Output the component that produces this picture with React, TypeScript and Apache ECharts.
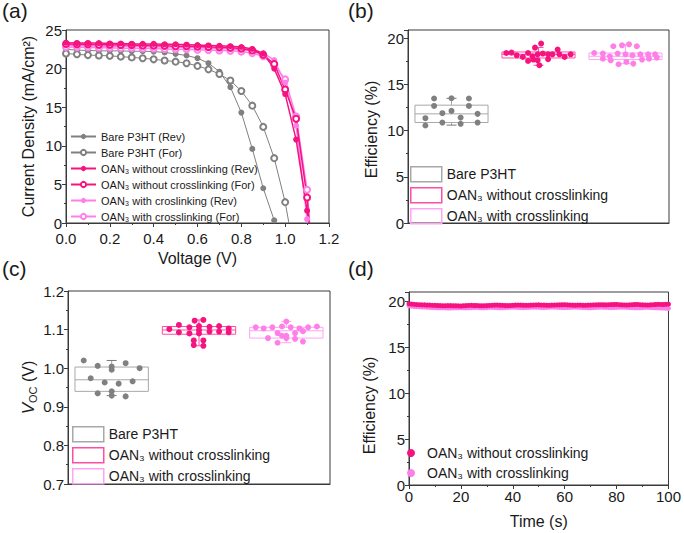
import React, { useEffect, useRef } from 'react';
import * as echarts from 'echarts';

const FONT = '"Liberation Sans", Arial, sans-serif';
const AX = '#3a3a3a';
const TXT = '#1a1a1a';
const GRAY = '#808080';
const DEEP = '#f5137f';
const LIGHT = '#ff7fe9';
const BOX_GRAY = '#a8a8a8';
const BOX_DEEP = '#ff4da3';
const BOX_LIGHT = '#ffa3f3';

// ---------- (a) J-V curves ----------
const vBareRev = [0, 0.05, 0.1, 0.15, 0.2, 0.25, 0.3, 0.35, 0.4, 0.45, 0.5, 0.55, 0.6, 0.65, 0.7, 0.75, 0.8, 0.85, 0.9, 0.95];
const jBareRev = [22.5, 22.4, 22.35, 22.3, 22.3, 22.3, 22.25, 22.25, 22.2, 22.1, 21.9, 21.7, 21.35, 20.7, 19.6, 17.6, 14.3, 9.6, 4.5, 0.35];
const vBareFor = [0, 0.05, 0.1, 0.15, 0.2, 0.25, 0.3, 0.35, 0.4, 0.45, 0.5, 0.55, 0.6, 0.65, 0.7, 0.75, 0.8, 0.85, 0.9, 0.95, 1.0];
const jBareFor = [21.95, 21.85, 21.75, 21.7, 21.65, 21.55, 21.45, 21.35, 21.2, 21.05, 20.9, 20.7, 20.35, 19.9, 19.3, 18.45, 17.1, 15.2, 12.45, 8.4, 2.7];
const vPink = [0, 0.05, 0.1, 0.15, 0.2, 0.25, 0.3, 0.35, 0.4, 0.45, 0.5, 0.55, 0.6, 0.65, 0.7, 0.75, 0.8, 0.85, 0.9, 0.95, 1.0, 1.05, 1.1];
const jDeepRev = [23.35, 23.3, 23.3, 23.3, 23.25, 23.25, 23.2, 23.2, 23.2, 23.15, 23.15, 23.1, 23.05, 23.0, 22.95, 22.9, 22.8, 22.55, 21.95, 20.0, 16.7, 10.8, 1.6];
const jDeepFor = [23.2, 23.15, 23.15, 23.1, 23.1, 23.05, 23.05, 23.0, 23.0, 22.95, 22.9, 22.9, 22.85, 22.8, 22.75, 22.7, 22.6, 22.35, 21.8, 20.6, 17.3, 13.5, 3.3];
const jLightRev = [23.0, 22.95, 22.95, 22.9, 22.9, 22.9, 22.85, 22.85, 22.8, 22.8, 22.75, 22.75, 22.7, 22.65, 22.6, 22.55, 22.45, 22.3, 22.0, 21.1, 18.2, 12.6, 0.5];
const jLightFor = [22.8, 22.75, 22.75, 22.7, 22.7, 22.65, 22.65, 22.6, 22.6, 22.55, 22.5, 22.5, 22.45, 22.4, 22.35, 22.3, 22.2, 22.0, 21.6, 20.5, 18.6, 13.8, 4.3];
// voltage where each curve reaches J = 0 (open circuit)
const vocEnd = { bareFor: 1.017, deepRev: 1.108, deepFor: 1.11, lightRev: 1.105, lightFor: 1.112 };
const jvNames = [
  'Bare P3HT (Rev)',
  'Bare P3HT (For)',
  'OAN₃ without crosslinking (Rev)',
  'OAN₃ without crosslinking (For)',
  'OAN₃ with croslinking (Rev)',
  'OAN₃ with crosslinking (For)',
];

// ---------- (b), (c) box plots ----------
const groups = ['Bare P3HT', 'OAN₃ without crosslinking', 'OAN₃ with crosslinking'];
// [category index, min, Q1, median, Q3, max]
const pceBox = [
  [0, 10.6, 10.88, 11.82, 12.76, 13.5],
  [1, 17.08, 17.87, 18.27, 18.52, 19.0],
  [2, 17.26, 17.7, 18.05, 18.41, 19.32],
];
const vocBox = [
  [0, 0.929, 0.94, 0.97, 1.003, 1.02],
  [1, 1.058, 1.088, 1.099, 1.108, 1.125],
  [2, 1.066, 1.078, 1.097, 1.106, 1.121],
];
// [jitter within category, value]
const pceBarePts = [[-0.2, 13.48], [0.0, 13.51], [0.2, 13.48], [-0.2, 12.68], [0.2, 12.68], [0.0, 12.14], [-0.105, 11.89], [0.3, 11.82], [-0.3, 11.35], [0.105, 11.42], [-0.105, 10.88], [0.3, 10.88], [0.105, 10.74], [-0.3, 10.56]];
const pceDeepPts = [[-0.37, 18.41], [-0.31, 18.45], [-0.25, 18.16], [-0.18, 17.98], [-0.12, 18.41], [-0.12, 17.55], [-0.07, 18.05], [-0.06, 17.7], [-0.04, 18.99], [-0.01, 18.27], [-0.01, 17.62], [0.03, 19.43], [0.01, 17.08], [0.05, 18.35], [0.11, 18.27], [0.11, 17.73], [0.16, 18.27], [0.22, 18.78], [0.24, 18.27], [0.3, 17.98], [0.37, 18.27]];
const pceLightPts = [[-0.36, 18.41], [-0.26, 17.8], [-0.26, 18.35], [-0.18, 18.05], [-0.17, 17.62], [-0.14, 19.14], [-0.09, 18.35], [-0.08, 17.19], [-0.04, 19.24], [0.0, 18.27], [0.01, 17.44], [0.04, 19.35], [0.08, 18.16], [0.09, 17.26], [0.13, 19.14], [0.17, 18.27], [0.19, 17.7], [0.26, 18.27], [0.27, 17.8], [0.34, 18.27], [0.36, 17.91]];
const vocBarePts = [[-0.32, 1.02], [-0.16, 1.006], [0, 1.004], [0, 0.996], [0.16, 1.013], [0.32, 1.0], [-0.24, 0.974], [-0.08, 0.963], [0.08, 0.96], [0.24, 0.966], [-0.16, 0.935], [0, 0.94], [0, 0.929], [0.16, 0.927]];
const vocDeepPts = [[-0.34, 1.101], [-0.23, 1.112], [-0.23, 1.093], [-0.11, 1.106], [-0.11, 1.09], [-0.05, 1.123], [0, 1.109], [0, 1.099], [0, 1.09], [0.05, 1.125], [0.05, 1.072], [0.12, 1.107], [0.12, 1.095], [0.23, 1.109], [0.23, 1.095], [0.34, 1.103], [0.34, 1.093], [-0.06, 1.06], [0.05, 1.058], [-0.06, 1.072]];
const vocLightPts = [[-0.35, 1.106], [-0.26, 1.103], [-0.21, 1.078], [-0.16, 1.106], [-0.1, 1.091], [-0.05, 1.108], [0, 1.121], [0, 1.084], [0, 1.078], [0.05, 1.106], [0.1, 1.091], [0.1, 1.076], [0.15, 1.103], [0.19, 1.069], [0.19, 1.096], [0.25, 1.106], [0.35, 1.108], [-0.1, 1.066], [-0.05, 1.084]];

// ---------- (d) stability ----------
const timeS = [
  0, 1, 2, 3, 4, 5, 6, 7, 8, 9,
  10, 11, 12, 13, 14, 15, 16, 17, 18, 19,
  20, 21, 22, 23, 24, 25, 26, 27, 28, 29,
  30, 31, 32, 33, 34, 35, 36, 37, 38, 39,
  40, 41, 42, 43, 44, 45, 46, 47, 48, 49,
  50, 51, 52, 53, 54, 55, 56, 57, 58, 59,
  60, 61, 62, 63, 64, 65, 66, 67, 68, 69,
  70, 71, 72, 73, 74, 75, 76, 77, 78, 79,
  80, 81, 82, 83, 84, 85, 86, 87, 88, 89,
  90, 91, 92, 93, 94, 95, 96, 97, 98, 99,
  100,
];
const effWithout = [
  19.72, 19.68, 19.66, 19.63, 19.62, 19.6, 19.6, 19.57, 19.58, 19.55,
  19.55, 19.53, 19.52, 19.5, 19.5, 19.52, 19.52, 19.5, 19.5, 19.49,
  19.48, 19.5, 19.52, 19.54, 19.55, 19.53, 19.53, 19.51, 19.5, 19.51,
  19.52, 19.54, 19.55, 19.57, 19.58, 19.56, 19.55, 19.53, 19.52, 19.53,
  19.55, 19.57, 19.58, 19.57, 19.56, 19.55, 19.55, 19.57, 19.58, 19.59,
  19.6, 19.58, 19.57, 19.56, 19.55, 19.57, 19.58, 19.59, 19.6, 19.61,
  19.62, 19.6, 19.58, 19.57, 19.56, 19.57, 19.58, 19.56, 19.55, 19.57,
  19.58, 19.59, 19.6, 19.61, 19.62, 19.61, 19.6, 19.62, 19.63, 19.64,
  19.65, 19.62, 19.6, 19.59, 19.58, 19.6, 19.62, 19.64, 19.65, 19.62,
  19.6, 19.59, 19.58, 19.6, 19.62, 19.64, 19.66, 19.65, 19.64, 19.66,
  19.68,
];
const effWith = [
  19.5, 19.46, 19.42, 19.4, 19.38, 19.37, 19.36, 19.34, 19.32, 19.31,
  19.3, 19.29, 19.28, 19.28, 19.27, 19.26, 19.25, 19.27, 19.28, 19.29,
  19.3, 19.28, 19.27, 19.28, 19.3, 19.31, 19.32, 19.3, 19.28, 19.29,
  19.3, 19.32, 19.33, 19.31, 19.3, 19.29, 19.28, 19.3, 19.32, 19.33,
  19.35, 19.34, 19.33, 19.31, 19.3, 19.31, 19.32, 19.34, 19.35, 19.34,
  19.33, 19.31, 19.3, 19.32, 19.34, 19.36, 19.35, 19.33, 19.32, 19.31,
  19.3, 19.31, 19.32, 19.34, 19.35, 19.33, 19.32, 19.31, 19.3, 19.29,
  19.28, 19.3, 19.32, 19.34, 19.35, 19.34, 19.33, 19.31, 19.3, 19.31,
  19.32, 19.34, 19.35, 19.33, 19.32, 19.31, 19.3, 19.29, 19.28, 19.29,
  19.3, 19.32, 19.33, 19.31, 19.3, 19.28, 19.27, 19.26, 19.25, 19.23,
  19.22,
];
const stabNames = ['OAN₃ without crosslinking ', 'OAN₃ with crosslinking '];

const zip = (xs: number[], ys: number[]) => xs.map((x, i) => [x, ys[i]]);
const withEnd = (xs: number[], ys: number[], xEnd: number) => [
  ...zip(xs, ys),
  { value: [xEnd, 0], symbol: 'none' },
];

const axisCommon: any = {
  axisLine: { show: true, onZero: false, lineStyle: { color: AX, width: 1 } },
  axisTick: { show: true, inside: false, length: 4, lineStyle: { color: AX } },
  minorTick: { show: true, splitNumber: 2, length: 2, lineStyle: { color: AX } },
  splitLine: { show: false },
  minorSplitLine: { show: false },
  axisLabel: { color: TXT, fontSize: 15, fontFamily: FONT, margin: 4, lineHeight: 15 },
  nameLocation: 'middle',
  nameTextStyle: { color: TXT, fontSize: 16, fontFamily: FONT },
};

const boxRender = (color: string) => (params: any, api: any) => {
  const x = api.value(0);
  const pMin = api.coord([x, api.value(1)]);
  const pQ1 = api.coord([x, api.value(2)]);
  const pMed = api.coord([x, api.value(3)]);
  const pQ3 = api.coord([x, api.value(4)]);
  const pMax = api.coord([x, api.value(5)]);
  const w = api.size([0.84, 0])[0];
  const cx = pMed[0];
  const cap = 5;
  const st = { stroke: color, lineWidth: 1, fill: 'none' };
  const wst = { stroke: '#7a7a7a', lineWidth: 1, fill: 'none' };
  return {
    type: 'group',
    children: [
      { type: 'rect', shape: { x: cx - w / 2, y: pQ3[1], width: w, height: pQ1[1] - pQ3[1] }, style: st },
      { type: 'line', shape: { x1: cx - w / 2, y1: pMed[1], x2: cx + w / 2, y2: pMed[1] }, style: st },
      { type: 'line', shape: { x1: cx, y1: pQ3[1], x2: cx, y2: pMax[1] }, style: st },
      { type: 'line', shape: { x1: cx, y1: pQ1[1], x2: cx, y2: pMin[1] }, style: st },
      { type: 'line', shape: { x1: cx - cap, y1: pMax[1], x2: cx + cap, y2: pMax[1] }, style: color === BOX_GRAY ? wst : st },
      { type: 'line', shape: { x1: cx - cap, y1: pMin[1], x2: cx + cap, y2: pMin[1] }, style: color === BOX_GRAY ? wst : st },
    ],
  };
};

const boxColors = [BOX_GRAY, BOX_DEEP, BOX_LIGHT];
const dotColors = [GRAY, DEEP, LIGHT];

const boxSeries = (boxes: number[][], grid: number) =>
  boxes.map((b, i) => ({
    type: 'custom',
    name: groups[i],
    xAxisIndex: grid,
    yAxisIndex: grid,
    renderItem: boxRender(boxColors[i]),
    encode: { x: 0, y: [1, 2, 3, 4, 5] },
    itemStyle: { color: boxColors[i] },
    data: [b],
    z: 2,
  }));

const dotSeries = (pts: number[][][], grid: number) =>
  pts.map((p, i) => ({
    type: 'scatter',
    name: groups[i] + ' data',
    xAxisIndex: grid,
    yAxisIndex: grid,
    symbolSize: 6,
    itemStyle: { color: dotColors[i], opacity: 1 },
    data: p.map(([dx, v]) => [i + dx, v]),
    z: 3,
  }));

const boxLegend = (left: number, top: number) => ({
  orient: 'vertical',
  left,
  top,
  padding: 0,
  itemWidth: 31,
  itemHeight: 15,
  itemGap: 4.5,
  selectedMode: false,
  textStyle: { fontSize: 14, color: TXT, fontFamily: FONT, lineHeight: 15 },
  data: groups.map((g, i) => ({
    name: g,
    icon: 'rect',
    itemStyle: { color: 'rgba(0,0,0,0)', borderColor: boxColors[i], borderWidth: 1.5 },
  })),
});

const option: any = {
  animation: false,
  backgroundColor: '#ffffff',
  textStyle: { fontFamily: FONT },
  grid: [
    { left: 66, top: 30, width: 263, height: 193, show: true, borderColor: AX, borderWidth: 1 },
    { left: 408, top: 30, width: 261, height: 193, show: true, borderColor: AX, borderWidth: 1 },
    { left: 68, top: 291, width: 262, height: 193, show: true, borderColor: AX, borderWidth: 1 },
    { left: 409, top: 292, width: 261, height: 193, show: true, borderColor: AX, borderWidth: 1 },
  ],
  xAxis: [
    {
      ...axisCommon, gridIndex: 0, type: 'value', min: 0, max: 1.2, interval: 0.2,
      axisLabel: { ...axisCommon.axisLabel, margin: 8, formatter: (v: number) => v.toFixed(1) },
      name: 'Voltage (V)', nameGap: 27,
    },
    {
      ...axisCommon, gridIndex: 1, type: 'value', min: -0.5, max: 2.5,
      axisLabel: { show: false }, axisTick: { show: false }, minorTick: { show: false },
    },
    {
      ...axisCommon, gridIndex: 2, type: 'value', min: -0.5, max: 2.5,
      axisLabel: { show: false }, axisTick: { show: false }, minorTick: { show: false },
    },
    {
      ...axisCommon, gridIndex: 3, type: 'value', min: 0, max: 100, interval: 20,
      axisLabel: { ...axisCommon.axisLabel, margin: 4 },
      name: 'Time (s)', nameGap: 28,
    },
  ],
  yAxis: [
    {
      ...axisCommon, gridIndex: 0, type: 'value', min: 0, max: 25, interval: 5,
      name: 'Current Density (mA/cm²)', nameGap: 30,
    },
    {
      ...axisCommon, gridIndex: 1, type: 'value', min: 0, max: 20.9, interval: 5,
      axisLabel: { ...axisCommon.axisLabel, showMaxLabel: false },
      name: 'Efficiency (%)', nameGap: 29,
      nameTextStyle: { ...axisCommon.nameTextStyle, padding: [0, 6, 0, 0] },
    },
    {
      ...axisCommon, gridIndex: 2, type: 'value', min: 0.7, max: 1.2, interval: 0.1,
      axisLabel: { ...axisCommon.axisLabel, formatter: (v: number) => v.toFixed(1) },
      name: '{v|V}{s|OC} (V)', nameGap: 30,
      nameTextStyle: {
        ...axisCommon.nameTextStyle,
        rich: {
          v: { fontSize: 17, fontStyle: 'italic', fontFamily: FONT, color: TXT },
          s: { fontSize: 11, fontFamily: FONT, color: TXT, padding: [9, 0, 0, 0] },
        },
      },
    },
    {
      ...axisCommon, gridIndex: 3, type: 'value', min: 0, max: 21, interval: 5,
      axisLabel: { ...axisCommon.axisLabel, showMaxLabel: false },
      name: 'Efficiency (%)', nameGap: 32,
      nameTextStyle: { ...axisCommon.nameTextStyle, padding: [0, 34, 0, 0] },
    },
  ],
  legend: [
    {
      orient: 'vertical', left: 70, top: 130, padding: 0, itemWidth: 25, itemHeight: 6.5, itemGap: 3,
      selectedMode: false,
      textStyle: { fontSize: 11, color: TXT, fontFamily: FONT, lineHeight: 13 },
      data: jvNames,
    },
    boxLegend(410, 166),
    boxLegend(72, 426),
    {
      orient: 'vertical', left: 407, top: 445, padding: 0, itemWidth: 22, itemHeight: 8, itemGap: 4,
      selectedMode: false,
      textStyle: { fontSize: 14, color: TXT, fontFamily: FONT, lineHeight: 16 },
      data: [
        { name: stabNames[0], icon: 'circle', itemStyle: { color: DEEP } },
        { name: stabNames[1], icon: 'circle', itemStyle: { color: LIGHT } },
      ],
    },
  ],
  graphic: [
    { type: 'text', left: 2, top: 0, style: { text: '(a)', fontSize: 21, fontFamily: FONT, fill: TXT } },
    { type: 'text', left: 348, top: 0, style: { text: '(b)', fontSize: 21, fontFamily: FONT, fill: TXT } },
    { type: 'text', left: 2, top: 258, style: { text: '(c)', fontSize: 21, fontFamily: FONT, fill: TXT } },
    { type: 'text', left: 348, top: 258, style: { text: '(d)', fontSize: 21, fontFamily: FONT, fill: TXT } },
  ],
  series: [
    // (a)
    {
      type: 'line', name: jvNames[0], xAxisIndex: 0, yAxisIndex: 0, data: zip(vBareRev, jBareRev),
      symbol: 'circle', symbolSize: 6, showAllSymbol: true, color: GRAY,
      lineStyle: { width: 1, color: GRAY }, itemStyle: { color: GRAY },
    },
    {
      type: 'line', name: jvNames[1], xAxisIndex: 0, yAxisIndex: 0, data: withEnd(vBareFor, jBareFor, vocEnd.bareFor),
      symbol: 'emptyCircle', symbolSize: 6, showAllSymbol: true, color: GRAY,
      lineStyle: { width: 1, color: GRAY }, itemStyle: { color: GRAY, borderWidth: 1 },
    },
    {
      type: 'line', name: jvNames[5], xAxisIndex: 0, yAxisIndex: 0, data: withEnd(vPink, jLightFor, vocEnd.lightFor),
      symbol: 'emptyCircle', symbolSize: 6, showAllSymbol: true, color: LIGHT,
      lineStyle: { width: 1.5, color: LIGHT }, itemStyle: { color: LIGHT, borderWidth: 1.2 },
    },
    {
      type: 'line', name: jvNames[4], xAxisIndex: 0, yAxisIndex: 0, data: withEnd(vPink, jLightRev, vocEnd.lightRev),
      symbol: 'circle', symbolSize: 6, showAllSymbol: true, color: LIGHT,
      lineStyle: { width: 1.5, color: LIGHT }, itemStyle: { color: LIGHT },
    },
    {
      type: 'line', name: jvNames[3], xAxisIndex: 0, yAxisIndex: 0, data: withEnd(vPink, jDeepFor, vocEnd.deepFor),
      symbol: 'emptyCircle', symbolSize: 6, showAllSymbol: true, color: DEEP,
      lineStyle: { width: 1.5, color: DEEP }, itemStyle: { color: DEEP, borderWidth: 1.2 },
    },
    {
      type: 'line', name: jvNames[2], xAxisIndex: 0, yAxisIndex: 0, data: withEnd(vPink, jDeepRev, vocEnd.deepRev),
      symbol: 'circle', symbolSize: 6, showAllSymbol: true, color: DEEP,
      lineStyle: { width: 1.5, color: DEEP }, itemStyle: { color: DEEP },
    },
    // (b)
    ...boxSeries(pceBox, 1),
    ...dotSeries([pceBarePts, pceDeepPts, pceLightPts], 1),
    // (c)
    ...boxSeries(vocBox, 2),
    ...dotSeries([vocBarePts, vocDeepPts, vocLightPts], 2),
    // (d)
    {
      type: 'scatter', name: stabNames[1], xAxisIndex: 3, yAxisIndex: 3,
      symbolSize: 5, itemStyle: { color: LIGHT, opacity: 1 }, data: zip(timeS, effWith),
    },
    {
      type: 'scatter', name: stabNames[0], xAxisIndex: 3, yAxisIndex: 3,
      symbolSize: 5, itemStyle: { color: DEEP, opacity: 1 }, data: zip(timeS, effWithout),
    },
  ],
};

export default function App() {
  const ref = useRef<HTMLDivElement>(null);
  useEffect(() => {
    const chart = echarts.init(ref.current!, null, { renderer: 'svg' });
    chart.setOption(option);
    return () => chart.dispose();
  }, []);
  return (
    <div
      ref={ref}
      style={{ position: 'absolute', left: 0, top: 0, width: 684, height: 533, background: '#fff' }}
    />
  );
}
